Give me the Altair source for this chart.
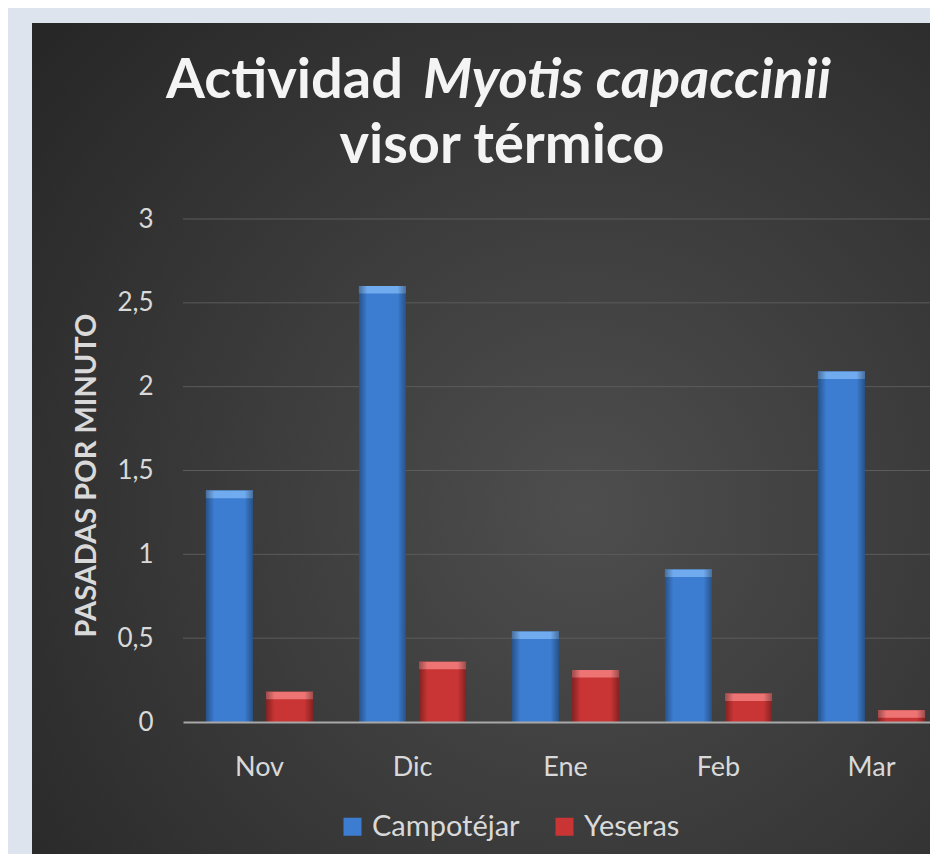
import altair as alt
import pandas as pd

# ---- data ----
months = ["Nov", "Dic", "Ene", "Feb", "Mar"]
series = ["Campotéjar", "Yeseras"]
campotejar = [1.38, 2.6, 0.54, 0.91, 2.09]
yeseras = [0.18, 0.36, 0.31, 0.17, 0.07]
y_ticks = [0, 0.5, 1, 1.5, 2, 2.5, 3]

title_line1a = "Actividad"
title_line1b = "Myotis capaccinii"
title_line2 = "visor térmico"
y_title = "PASADAS POR MINUTO"

colors = ["#3c7dd1", "#c93434"]
bevel_colors = ["#70abf0", "#ee7474"]

rows = []
for m, c, y in zip(months, campotejar, yeseras):
    rows.append({"mes": m, "serie": series[0], "valor": c})
    rows.append({"mes": m, "serie": series[1], "valor": y})
df = pd.DataFrame(rows)
grid_df = pd.DataFrame({"valor": y_ticks[1:]})
one = pd.DataFrame({"k": [0]})

FONT = "Lato"
TXT = "#d9d9d9"
W, H = 747, 503

xscale = alt.Scale(range=[0, 765], paddingInner=0.3, paddingOuter=0.15)
yscale = alt.Scale(domain=[0, 3])

# dark chart box with radial gradient
bg = alt.Chart(one).mark_rect(
    fill={
        "gradient": "radial",
        "x1": 0.58, "y1": 0.55, "r1": 0,
        "x2": 0.58, "y2": 0.55, "r2": 0.75,
        "stops": [
            {"offset": 0, "color": "#4e4e4e"},
            {"offset": 1, "color": "#272727"},
        ],
    }
).encode(x=alt.value(-151), x2=alt.value(800), y=alt.value(-196), y2=alt.value(680))

grid = alt.Chart(grid_df).mark_rule(color="#5c5c5c", strokeWidth=1).encode(
    y=alt.Y("valor:Q", scale=yscale),
    x=alt.value(0),
    x2=alt.value(800),
)

xaxis = alt.Axis(
    title=None, labelFont=FONT, labelFontSize=27, labelColor=TXT, labelPadding=32,
    ticks=False, domainColor="#a8a8a8", domainWidth=2, labelAngle=0, zindex=1,
)
yaxis = alt.Axis(
    title=y_title, values=y_ticks,
    labelExpr="replace(toString(datum.value), '.', ',')",
    labelFont=FONT, labelFontSize=26, labelColor=TXT, labelPadding=30,
    ticks=False, domain=False, grid=False,
    titleFont=FONT, titleFontSize=29, titleFontWeight="bold", titleColor=TXT,
    titleX=-97, titleY=256, titleBaseline="middle", zindex=1,
)
legend = alt.Legend(
    title=None, orient="none", legendX=155, legendY=593, direction="horizontal",
    symbolType="square", symbolSize=324, symbolStrokeWidth=0,
    labelFont=FONT, labelFontSize=29, labelColor=TXT, labelOffset=5,
    columnPadding=30, padding=0, zindex=1,
)

base = alt.Chart(df).encode(
    x=alt.X("mes:N", sort=months, scale=xscale, axis=xaxis),
    xOffset=alt.XOffset("serie:N", sort=series, scale=alt.Scale(paddingInner=0.22)),
    y=alt.Y("valor:Q", scale=yscale, axis=yaxis),
)

bars = base.mark_bar().encode(
    color=alt.Color("serie:N", scale=alt.Scale(domain=series, range=colors), legend=legend)
)
bevel = base.transform_calculate(top="datum.valor - 0.045").mark_bar().encode(
    y2="top:Q",
    fill=alt.condition(f"datum.serie == '{series[0]}'", alt.value(bevel_colors[0]), alt.value(bevel_colors[1])),
)
shade = base.mark_bar(
    fill={
        "gradient": "linear", "x1": 0, "x2": 1, "y1": 0, "y2": 0,
        "stops": [
            {"offset": 0, "color": "rgba(0,0,0,0.35)"},
            {"offset": 0.18, "color": "rgba(0,0,0,0)"},
            {"offset": 0.82, "color": "rgba(0,0,0,0)"},
            {"offset": 1, "color": "rgba(0,0,0,0.35)"},
        ],
    }
)

def title_text(text, x, y, align, italic):
    kw = dict(text=text, font=FONT, fontSize=56, fontWeight="bold", align=align,
              baseline="alphabetic", color="#f4f4f4")
    if italic:
        kw["fontStyle"] = "italic"
    return alt.Chart(one).mark_text(**kw).encode(x=alt.value(x), y=alt.value(y))

texts = [
    title_text(title_line1a, 220, -121, "right", False),
    title_text(title_line1b, 240, -121, "left", True),
    title_text(title_line2, 319, -56, "center", False),
]

chart = alt.layer(bg, grid, bars, bevel, shade, *texts).properties(
    width=W, height=H,
    padding={"left": 175, "top": 211, "right": 0, "bottom": 132},
    autosize=alt.AutoSizeParams(type="none"),
).configure(background="#dde4ee").configure_view(stroke="transparent")

chart.save("out.html", embed_options={"renderer": "svg", "actions": False})
